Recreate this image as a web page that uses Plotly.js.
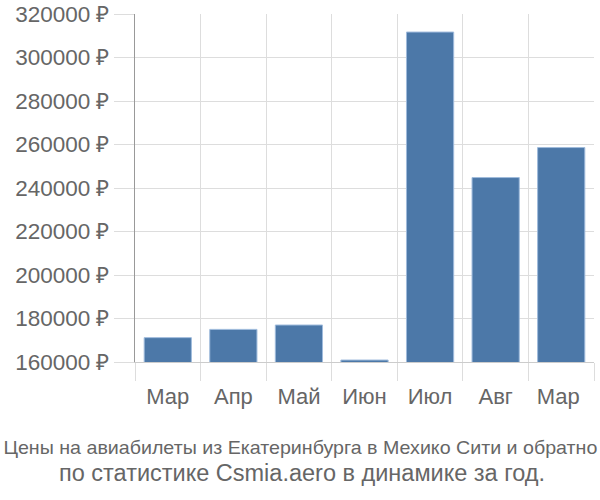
<!DOCTYPE html>
<html>
<head>
<meta charset="utf-8">
<script src="https://cdn.plot.ly/plotly-3.0.1.min.js"></script>
<style>body{margin:0;}#chart{width:600px;height:500px;}</style>
</head>
<body>
<div id="chart"></div>
<script>
const months = ["Мар", "Апр", "Май", "Июн", "Июл", "Авг", "Мар"];
const prices = [171200, 175000, 177000, 160900, 311700, 244800, 258600];
const yTicks = [160000, 180000, 200000, 220000, 240000, 260000, 280000, 300000, 320000];
const yTickText = yTicks.map(v => v + " ₽");
const titleLine1 = "Цены на авиабилеты из Екатеринбурга в Мехико Сити и обратно";
const titleLine2 = "по статистике Csmia.aero в динамике за год.";

// make duplicate category names unique (invisible trailing spaces)
const seen = {};
const cats = months.map(m => { seen[m] = (seen[m] || 0) + 1; return m + " ".repeat(seen[m] - 1); });

const trace = {
  type: "bar",
  x: cats,
  y: prices,
  marker: { color: "#4c78a8", line: { color: "#9fbbdc", width: 1 } },
  hoverinfo: "none"
};

const plotH = 500 - 14 - 138;
const layout = {
  width: 600, height: 500,
  margin: { l: 135, r: 6, t: 14, b: 138 },
  paper_bgcolor: "#fff", plot_bgcolor: "#fff",
  bargap: 0.28,
  showlegend: false,
  font: { family: "Liberation Sans, Arial, sans-serif", color: "#666" },
  annotations: [
    {
      text: titleLine1, showarrow: false,
      xref: "paper", x: (300 - 135) / 459, xanchor: "center",
      yref: "paper", y: (362 - 447) / plotH, yanchor: "middle",
      font: { size: 19, color: "#666" }
    },
    {
      text: titleLine2, showarrow: false,
      xref: "paper", x: (302 - 135) / 459, xanchor: "center",
      yref: "paper", y: (362 - 473) / plotH, yanchor: "middle",
      font: { size: 23.5, color: "#666" }
    }
  ],
  xaxis: {
    type: "category",
    tickson: "boundaries",
    ticks: "outside", ticklen: 18, tickcolor: "#ddd", tickwidth: 1,
    ticklabelstandoff: 15,
    showgrid: true, gridcolor: "#ddd", gridwidth: 1,
    showline: true, linecolor: "#ccc", linewidth: 1,
    tickfont: { size: 22, color: "#666" },
    fixedrange: true
  },
  yaxis: {
    range: [160000, 320000],
    tickmode: "array",
    tickvals: yTicks,
    ticktext: yTickText,
    ticks: "outside", ticklen: 20, tickcolor: "#ddd", tickwidth: 1,
    showgrid: true, gridcolor: "#ddd", gridwidth: 1,
    showline: true, linecolor: "#999", linewidth: 1,
    zeroline: false,
    tickfont: { size: 22.5, color: "#666" },
    fixedrange: true
  }
};

Plotly.newPlot("chart", [trace], layout, { displayModeBar: false, staticPlot: true }).then(gd => {
  // stretch the long first title line horizontally to span the width, like the reference
  const txt = gd.querySelector(".annotation .annotation-text-g text");
  if (txt) {
    txt.setAttribute("textLength", "594");
    txt.setAttribute("lengthAdjust", "spacingAndGlyphs");
  }
});
</script>
</body>
</html>
